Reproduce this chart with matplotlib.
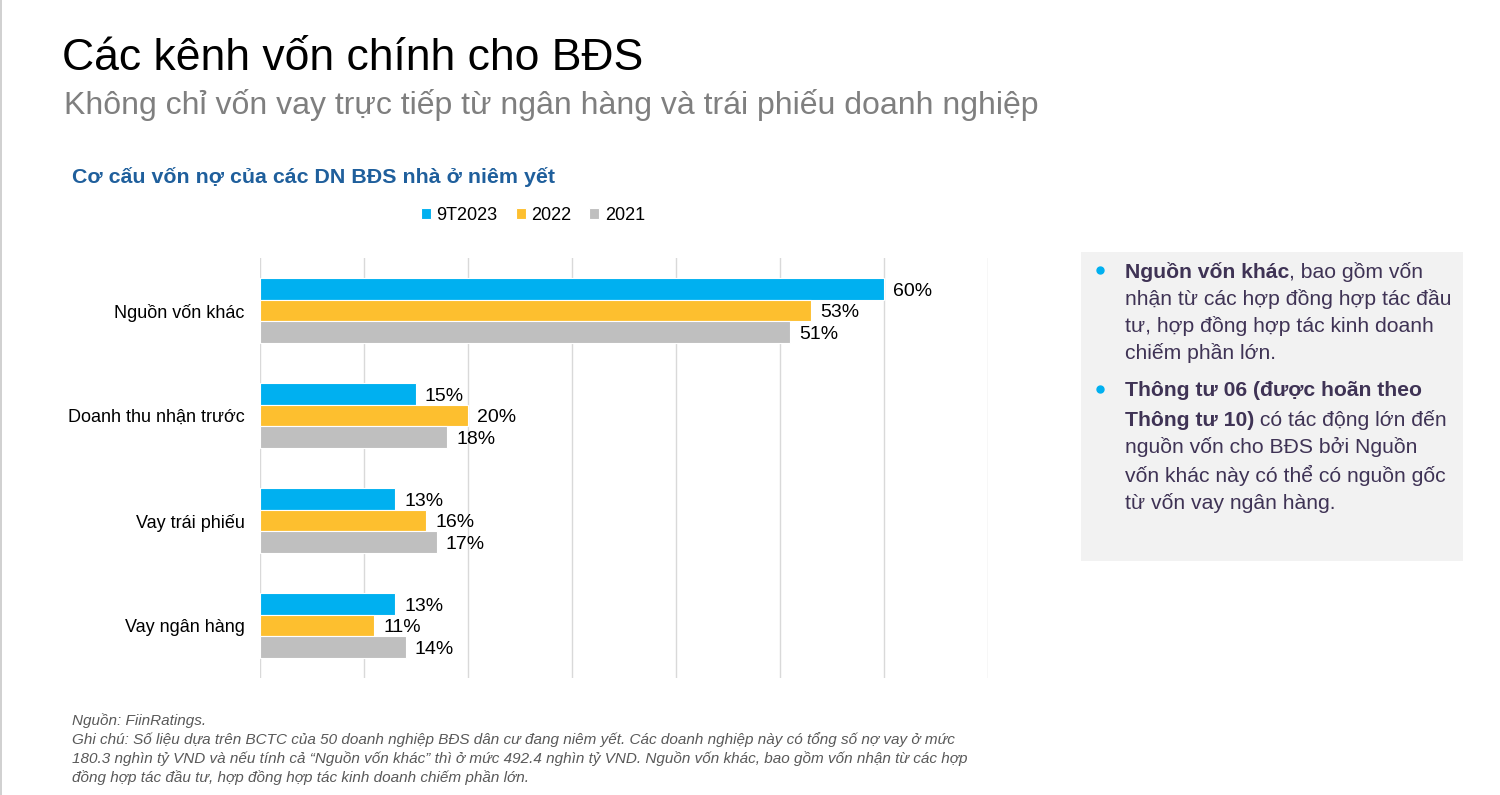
import matplotlib
matplotlib.use("Agg")
import matplotlib.pyplot as plt
import numpy as np
from matplotlib import font_manager

categories = ["Nguồn vốn khác", "Doanh thu nhận trước", "Vay trái phiếu", "Vay ngân hàng"]
series_names = ["9T2023", "2022", "2021"]
v_9t2023 = [60, 15, 13, 13]
v_2022 = [53, 20, 16, 11]
v_2021 = [51, 18, 17, 14]
x_ticks = [0, 10, 20, 30, 40, 50, 60, 70]

BLUE = "#00b0f0"
YELLOW = "#fdbf2f"
GREY = "#bfbfbf"
NAVY = "#1f5f9c"
PURPLE = "#3f3355"

names = {f.name for f in font_manager.fontManager.ttflist}
SANS = "Liberation Sans"
NARROW = "Liberation Sans Narrow" if "Liberation Sans Narrow" in names else SANS
plt.rcParams["font.family"] = [SANS, "DejaVu Sans"]

fig = plt.figure(figsize=(15, 7.95), dpi=100)
fig.patch.set_facecolor("white")

# overlay for free text
ov = fig.add_axes([0, 0, 1, 1])
ov.set_xlim(0, 1500)
ov.set_ylim(795, 0)
ov.axis("off")
ov.plot([0.5, 0.5], [0, 795], color="#c8c8c8", lw=1.2)

ov.text(62, 58, "Các kênh vốn chính cho BĐS", fontsize=32, color="black",
        va="center", ha="left")
ov.text(64, 105, "Không chỉ vốn vay trực tiếp từ ngân hàng và trái phiếu doanh nghiệp",
        fontsize=23, color="#7f7f7f", va="center", ha="left")
ov.text(72, 177, "Cơ cấu vốn nợ của các DN BĐS nhà ở niêm yết", fontsize=15.4,
        color=NAVY, fontweight="bold", family=[NARROW, "DejaVu Sans"],
        va="center", ha="left")

# bar chart
ax = fig.add_axes([260 / 1500, 1 - 678 / 795, 728 / 1500, 420 / 795])
y = np.arange(len(categories))
h = 0.205
for off, vals, col, name in [(-h, v_9t2023, BLUE, series_names[0]),
                             (0, v_2022, YELLOW, series_names[1]),
                             (h, v_2021, GREY, series_names[2])]:
    bars = ax.barh(y + off, vals, height=h, color=col, edgecolor="white",
                   linewidth=0.8, label=name, zorder=3)
    for b, v in zip(bars, vals):
        ax.text(b.get_width() + 0.85, b.get_y() + b.get_height() / 2 + 0.02,
                f"{v}%", va="center", ha="left", fontsize=14, color="black")
ax.set_xlim(x_ticks[0], x_ticks[-1])
ax.set_ylim(3.5, -0.5)
ax.set_xticks(x_ticks)
ax.xaxis.grid(True, color="#d9d9d9", lw=1, zorder=0)
ax.tick_params(axis="x", length=0, labelbottom=False)
ax.tick_params(axis="y", length=0, pad=11, labelsize=13)
ax.set_yticks(y)
ax.set_yticklabels(categories)
for s in ax.spines.values():
    s.set_visible(False)

handles, labels = ax.get_legend_handles_labels()
fig.legend(handles, labels, loc="center", bbox_to_anchor=(533 / 1500, 1 - 215 / 795),
           ncol=3, frameon=False, fontsize=13, handlelength=0.55,
           handleheight=0.55, handletextpad=0.3, columnspacing=1.0)

# right panel
ov.add_patch(plt.Rectangle((1081, 252), 382, 309, facecolor="#f2f2f2",
                           edgecolor="none"))
fs = 15.2
lines = [
    [("Nguồn vốn khác", True), (", bao gồm vốn", False)],
    [("nhận từ các hợp đồng hợp tác đầu", False)],
    [("tư, hợp đồng hợp tác kinh doanh", False)],
    [("chiếm phần lớn.", False)],
    None,
    [("Thông tư 06 (được hoãn theo", True)],
    [("Thông tư 10)", True), (" có tác động lớn đến", False)],
    [("nguồn vốn cho BĐS bởi Nguồn", False)],
    [("vốn khác này có thể có nguồn gốc", False)],
    [("từ vốn vay ngân hàng.", False)],
]
ys = [272, 299, 326, 353, None, 391, 420, 447, 475, 503]
for yy, parts in zip(ys, lines):
    if parts is None:
        continue
    prev = None
    for txt, bold in parts:
        kw = dict(fontsize=fs, color=PURPLE,
                  fontweight="bold" if bold else "normal")
        if prev is None:
            prev = ov.text(1125, yy, txt, va="center", ha="left", **kw)
        else:
            prev = ov.annotate(txt, xy=(1, 0), xycoords=prev, va="bottom",
                               ha="left", **kw)
for yy in (272, 391):
    ov.plot(1100, yy - 2, "o", color=BLUE, ms=5)

# footnote
foot = [
    "Nguồn: FiinRatings.",
    "Ghi chú: Số liệu dựa trên BCTC của 50 doanh nghiệp BĐS dân cư đang niêm yết. Các doanh nghiệp này có tổng số nợ vay ở mức",
    "180.3 nghìn tỷ VND và nếu tính cả “Nguồn vốn khác” thì ở mức 492.4 nghìn tỷ VND. Nguồn vốn khác, bao gồm vốn nhận từ các hợp",
    "đồng hợp tác đầu tư, hợp đồng hợp tác kinh doanh chiếm phần lớn.",
]
for i, line in enumerate(foot):
    ov.text(72, 721 + i * 19, line, fontsize=11, style="italic", color="#595959",
            family=[NARROW, "DejaVu Sans"], va="center", ha="left")

fig.savefig("out.png", dpi=100, facecolor="white")
